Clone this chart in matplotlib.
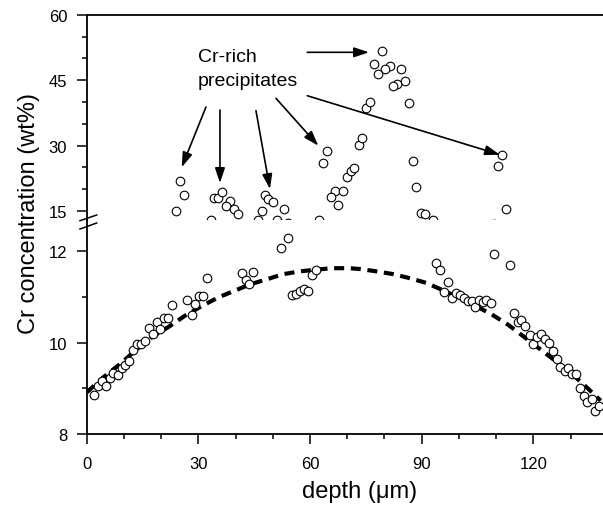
import matplotlib
matplotlib.use("Agg")
import matplotlib.pyplot as plt
from matplotlib.lines import Line2D
from matplotlib.ticker import MultipleLocator

plt.rcParams['font.family'] = ['Liberation Sans', 'DejaVu Sans']

# measured Cr concentration (wt%) vs depth (um)
depth = [25.06, 26.05, 23.9, 33.3, 34.27, 35.35, 36.42, 38.57, 37.5, 39.56, 40.72,
         47.89, 48.62, 50.12, 47.0, 53.08, 45.93, 51.03,
         64.63, 63.55, 66.69, 65.62, 67.5, 62.48, 68.84,
         69.92, 70.91, 71.88, 73.06, 74.03, 75.1, 76.09, 86.57,
         79.24, 77.17, 81.39, 80.2, 78.16, 84.42, 85.5, 83.43, 82.35,
         87.56, 88.53, 89.71, 90.95, 92.94, 111.63, 110.56, 112.63,
         2.04, 3.12, 4.11, 5.10, 6.26, 7.14, 8.33, 9.40, 10.37, 11.44,
         12.36, 13.43, 14.50, 15.58, 16.73, 17.73, 18.80, 19.77, 20.68, 21.84,
         22.99, 27.02, 28.20, 29.17, 30.08, 31.32, 32.31, 41.71, 44.80, 42.71,
         43.73, 52.11, 54.20, 55.14, 56.22, 57.29, 58.37, 59.44, 60.44, 61.59,
         93.88, 94.95, 96.96, 95.89, 98.07, 99.11, 100.19, 101.26, 102.36, 103.44,
         104.24, 105.32, 106.37, 107.39, 108.51, 109.48, 113.62, 114.77, 115.85, 116.79,
         117.86, 119.07, 119.96, 121.03, 122.03, 123.15, 124.17, 125.25, 126.32, 127.21,
         128.42, 129.41, 130.43, 131.56, 132.45, 133.52, 134.46, 135.67, 136.58, 137.60]
cr = [21.94, 18.67, 15.07, 12.9, 17.98, 17.91, 19.42, 17.36, 16.08, 15.46, 14.31,
      18.67, 17.68, 17.13, 14.93, 15.46, 12.9, 12.9,
      28.82, 25.93, 19.65, 18.28, 16.3, 12.9, 19.65,
      22.72, 24.17, 24.92, 30.13, 31.73, 38.54, 39.92, 39.76,
      51.75, 48.63, 48.31, 47.55, 46.34, 47.62, 44.73, 44.11, 43.72,
      26.46, 20.57, 14.47, 14.24, 13.0, 27.84, 25.31, 15.39,
      8.86, 9.05, 9.15, 9.04, 9.22, 9.33, 9.30, 9.45, 9.50, 9.59,
      9.84, 9.98, 9.96, 10.03, 10.31, 10.20, 10.45, 10.30, 10.53, 10.54,
      10.83, 10.93, 10.61, 10.85, 11.02, 11.02, 11.42, 11.52, 11.55, 11.37,
      11.28, 12.08, 12.28, 11.04, 11.07, 11.14, 11.17, 11.14, 11.47, 11.58,
      11.74, 11.58, 11.32, 11.11, 10.97, 11.09, 11.05, 10.97, 10.91, 10.91,
      10.79, 10.93, 10.88, 10.94, 10.86, 11.93, 11.70, 10.65, 10.45, 10.50,
      10.37, 10.17, 9.97, 10.12, 10.18, 10.08, 10.00, 9.82, 9.64, 9.46,
      9.39, 9.44, 9.32, 9.31, 9.01, 8.84, 8.70, 8.76, 8.50, 8.62]

# fitted profile (dashed curve)
fit_depth = [0, 4.46, 8.94, 12.97, 17.46, 21.92, 26.40, 30.89, 35.35, 39.83, 44.05,
             48.51, 52.81, 57.29, 61.78, 66.08, 70.53, 73.60, 77.89, 82.35, 86.84,
             91.14, 95.35, 99.81, 104.30, 108.78, 113.24, 117.27, 121.76, 126.24,
             130.70, 134.73, 138.06]
fit_cr = [8.91, 9.24, 9.53, 9.82, 10.12, 10.34, 10.59, 10.80, 10.99, 11.14, 11.28,
          11.39, 11.50, 11.56, 11.60, 11.63, 11.63, 11.61, 11.56, 11.50, 11.41,
          11.31, 11.16, 10.99, 10.81, 10.62, 10.39, 10.14, 9.86, 9.58,
          9.29, 8.99, 8.73]

x_major = [0, 30, 60, 90, 120]
upper_ticks = [15, 30, 45, 60]
lower_ticks = [8, 10, 12]

# arrows: (start, end) in data coords of upper panel
arrows = [((32.04, 38.84), (25.52, 25.02)),
          ((35.80, 38.15), (35.80, 21.42)),
          ((45.47, 38.00), (49.23, 20.04)),
          ((50.85, 40.83), (62.21, 29.97)),
          ((59.25, 51.38), (75.83, 51.38)),
          ((59.25, 41.43), (111.01, 27.90))]

W_PX, H_PX = 603, 506
fig = plt.figure(figsize=(W_PX / 100, H_PX / 100), dpi=100)
left = 86.7 / W_PX
width = 1 - left
y_top, y_brk, y_bot = 15.7, 221.0, 435.0
ax_t = fig.add_axes([left, 1 - y_brk / H_PX, width, (y_brk - y_top) / H_PX])
ax_b = fig.add_axes([left, 1 - y_bot / H_PX, width, (y_bot - y_brk) / H_PX])

marker_kw = dict(linestyle='none', marker='o', ms=6.2, mfc='white', mec='black', mew=0.8)
for ax in (ax_t, ax_b):
    ax.plot(depth, cr, **marker_kw)
    ax.set_xlim(0, 138.7)
    ax.spines['right'].set_visible(False)
    for s in ax.spines.values():
        s.set_linewidth(1.3)
    ax.tick_params(which='both', direction='out', width=1.1, labelsize=12)
    ax.tick_params(which='major', length=7)
    ax.tick_params(which='minor', length=3.5)

ax_b.plot(fit_depth, fit_cr, color='black', lw=3.0, linestyle=(0, (2.4, 1.6)), zorder=1)

ax_t.set_ylim(12.94, 60)
ax_t.set_yticks(upper_ticks)
ax_t.yaxis.set_minor_locator(MultipleLocator(5))
ax_t.spines['bottom'].set_visible(False)
ax_t.tick_params(axis='x', which='both', bottom=False, labelbottom=False)
ax_t.tick_params(axis='y', pad=7)

ax_b.set_ylim(8, 12.685)
ax_b.set_yticks(lower_ticks)
ax_b.yaxis.set_minor_locator(MultipleLocator(1))
ax_b.spines['top'].set_visible(False)
ax_b.set_xticks(x_major)
ax_b.xaxis.set_minor_locator(MultipleLocator(10))
ax_b.tick_params(axis='x', pad=9)
ax_b.tick_params(axis='y', pad=7)

for (x0, y0), (x1, y1) in arrows:
    ax_t.annotate('', xy=(x1, y1), xytext=(x0, y0), annotation_clip=False,
                  arrowprops=dict(arrowstyle='-|>,head_length=0.6,head_width=0.2',
                                  mutation_scale=15, color='black', lw=1.2,
                                  shrinkA=0, shrinkB=0))

fig.text(198 / W_PX, 1 - 61.7 / H_PX, 'Cr-rich', fontsize=14, va='baseline', ha='left')
fig.text(198 / W_PX, 1 - 86 / H_PX, 'precipitates', fontsize=14, va='baseline', ha='left')

fig.text(29 / W_PX, 1 - 213 / H_PX, 'Cr concentration (wt%)', rotation=90,
         fontsize=17, ha='center', va='center')
fig.text(360 / W_PX, 1 - 492 / H_PX, 'depth (\u03bcm)', fontsize=17, ha='center', va='center')

# axis-break marks
for (xa, ya), (xb, yb) in [((80, 221.7), (96.7, 216)), ((80, 230), (96.7, 224))]:
    fig.add_artist(Line2D([xa / W_PX, xb / W_PX], [1 - ya / H_PX, 1 - yb / H_PX],
                          transform=fig.transFigure, color='black', lw=1.1))

fig.savefig('out.png', dpi=100)
